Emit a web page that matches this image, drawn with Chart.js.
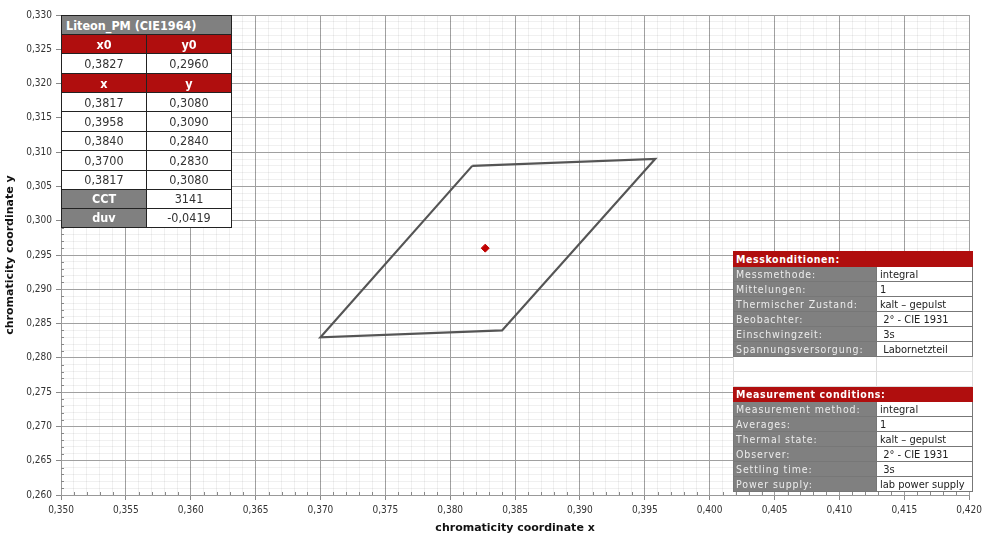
<!DOCTYPE html>
<html lang="de">
<head>
<meta charset="UTF-8" />
<title>Liteon_PM Farbort</title>
<script src="https://cdn.jsdelivr.net/npm/chart.js"></script>
<style>
  body { margin: 0; background: #fff; }
  #wrap { position: relative; width: 986px; height: 535px; }
  canvas { position: absolute; left: 0; top: 0; }
  table { position: absolute; border-collapse: collapse; table-layout: fixed; font-family: "DejaVu Sans Condensed", "DejaVu Sans", sans-serif; }
  td { padding: 0; overflow: hidden; white-space: nowrap; }
  #binTab { left: 61px; top: 15px; width: 170px; border: 1.5px solid #222; font-size: 12.5px; }
  #binTab td { border: 1px solid #222; text-align: center; color: #333; background: #fff; height: 18px; }
  #binTab td.gray { background: #808080; color: #fff; font-weight: bold; }
  #binTab td.red { background: #b00e0e; color: #fff; font-weight: bold; }
  #binTab td.title { text-align: left; padding-left: 4px; }
  #condTab { left: 733px; top: 251px; width: 239px; border: 1px solid #2a2a70; font-size: 10.5px; }
  #condTab td { height: 14px; border: 1px solid #777; }
  #condTab td.lab { background: #808080; color: #ececec; letter-spacing: 0.9px; padding-left: 2px; }
  #condTab td.val { background: #fff; color: #222; padding-left: 3px; font-size: 11px; }
  #condTab td.head { background: #b00e0e; color: #fff; font-weight: bold; letter-spacing: 0.6px; padding-left: 2px; border-color: #b00e0e; }
  #condTab td.blank { background: #fff; border-color: #ddd; }
</style>
</head>
<body>
<div id="wrap">
  <canvas id="cieChart" width="986" height="535"></canvas>
  <table id="binTab"></table>
  <table id="condTab"></table>
</div>

<script>
  // bin corners (closed polygon) and target point
  const binX = [0.3817, 0.3958, 0.3840, 0.3700, 0.3817];
  const binY = [0.3080, 0.3090, 0.2840, 0.2830, 0.3080];
  const centerX = [0.3827];
  const centerY = [0.2960];
  const binName = 'Liteon_PM (CIE1964)';
  const cct = '3141';
  const duv = '-0,0419';

  const condDe = ['Messkonditionen:',
    ['Messmethode:', 'integral'], ['Mittelungen:', '1'], ['Thermischer Zustand:', 'kalt – gepulst'],
    ['Beobachter:', ' 2° - CIE 1931'], ['Einschwingzeit:', ' 3s'], ['Spannungsversorgung:', ' Labornetzteil']];
  const condEn = ['Measurement conditions:',
    ['Measurement method:', 'integral'], ['Averages:', '1'], ['Thermal state:', 'kalt – gepulst'],
    ['Observer:', ' 2° - CIE 1931'], ['Settling time:', ' 3s'], ['Power supply:', 'lab power supply']];

  const fmt = (v, d) => v.toFixed(d).replace('.', ',');
  const isMajor = v => Math.round(v * 1000) % 5 === 0;

  // left table
  let h = `<colgroup><col style="width:85px"><col style="width:85px"></colgroup>`;
  h += `<tr><td colspan="2" class="gray title">${binName}</td></tr>`;
  h += `<tr><td class="red">x0</td><td class="red">y0</td></tr>`;
  h += `<tr style="height:20px"><td>${fmt(centerX[0], 4)}</td><td>${fmt(centerY[0], 4)}</td></tr>`;
  h += `<tr><td class="red">x</td><td class="red">y</td></tr>`;
  binX.forEach((x, i) => {
    h += `<tr style="height:19.4px"><td>${fmt(x, 4)}</td><td>${fmt(binY[i], 4)}</td></tr>`;
  });
  h += `<tr style="height:19px"><td class="gray">CCT</td><td>${cct}</td></tr>`;
  h += `<tr style="height:19px"><td class="gray">duv</td><td>${duv}</td></tr>`;
  document.getElementById('binTab').innerHTML = h;

  // right table
  function condRows(c) {
    let s = `<tr><td colspan="2" class="head">${c[0]}</td></tr>`;
    c.slice(1).forEach(([a, b]) => { s += `<tr><td class="lab">${a}</td><td class="val">${b.replace(/^ /, '&nbsp;')}</td></tr>`; });
    return s;
  }
  let r = `<colgroup><col style="width:143px"><col style="width:96px"></colgroup>`;
  r += condRows(condDe);
  r += `<tr><td class="blank"></td><td class="blank"></td></tr><tr><td class="blank"></td><td class="blank"></td></tr>`;
  r += condRows(condEn);
  document.getElementById('condTab').innerHTML = r;

  const tickFont = { family: '"DejaVu Sans Condensed", "DejaVu Sans", sans-serif', size: 10 };
  const titleFont = { family: '"DejaVu Sans", sans-serif', size: 11, weight: 'bold' };

  function axis(min, max, title, fitSize, horiz) {
    return {
      type: 'linear', min, max,
      afterFit: s => { if (horiz) s.height = fitSize; else s.width = fitSize; },
      ticks: {
        stepSize: 0.001, autoSkip: false, maxRotation: 0, maxTicksLimit: 200,
        color: '#333', font: tickFont, padding: 4,
        callback: v => isMajor(v) ? fmt(v, 3) : ''
      },
      grid: {
        color: c => (c.tick && isMajor(c.tick.value)) ? '#a0a0a0' : 'rgba(0,0,0,0.06)',
        lineWidth: 1,
        tickColor: c => (c.tick && isMajor(c.tick.value)) ? '#888' : 'rgba(0,0,0,0)',
        tickLength: 5
      },
      border: { display: true, color: '#999' },
      title: { display: true, text: title, color: '#111', font: titleFont, padding: { top: 4, bottom: 0 } }
    };
  }

  // small inward ticks for the minor steps, like the original sheet
  const minorTicks = {
    id: 'minorTicks',
    afterDraw(chart) {
      const { ctx, chartArea: a, scales } = chart;
      ctx.save();
      ctx.strokeStyle = '#888';
      ctx.lineWidth = 1;
      ctx.beginPath();
      scales.x.ticks.forEach(t => {
        if (isMajor(t.value)) return;
        const px = Math.round(scales.x.getPixelForValue(t.value)) + 0.5;
        ctx.moveTo(px, a.bottom); ctx.lineTo(px, a.bottom - 3);
      });
      scales.y.ticks.forEach(t => {
        if (isMajor(t.value)) return;
        const py = Math.round(scales.y.getPixelForValue(t.value)) + 0.5;
        ctx.moveTo(a.left, py); ctx.lineTo(a.left + 3, py);
      });
      ctx.stroke();
      ctx.restore();
    }
  };

  new Chart(document.getElementById('cieChart'), {
    type: 'scatter',
    data: {
      datasets: [
        {
          label: 'bin',
          data: binX.map((x, i) => ({ x, y: binY[i] })),
          showLine: true, borderColor: '#555', borderWidth: 2.2,
          pointRadius: 0, fill: false, tension: 0
        },
        {
          label: 'x0/y0',
          data: centerX.map((x, i) => ({ x, y: centerY[i] })),
          pointStyle: 'rectRot', pointRadius: 4,
          backgroundColor: '#c00000', borderColor: '#c00000'
        }
      ]
    },
    options: {
      responsive: false,
      animation: false,
      layout: { padding: { left: 0, right: 14, top: 15, bottom: 0 } },
      plugins: { legend: { display: false }, tooltip: { enabled: false } },
      scales: {
        x: axis(0.35, 0.42, 'chromaticity coordinate x', 40, true),
        y: axis(0.26, 0.33, 'chromaticity coordinate y', 61, false)
      }
    },
    plugins: [minorTicks]
  });
</script>
</body>
</html>
